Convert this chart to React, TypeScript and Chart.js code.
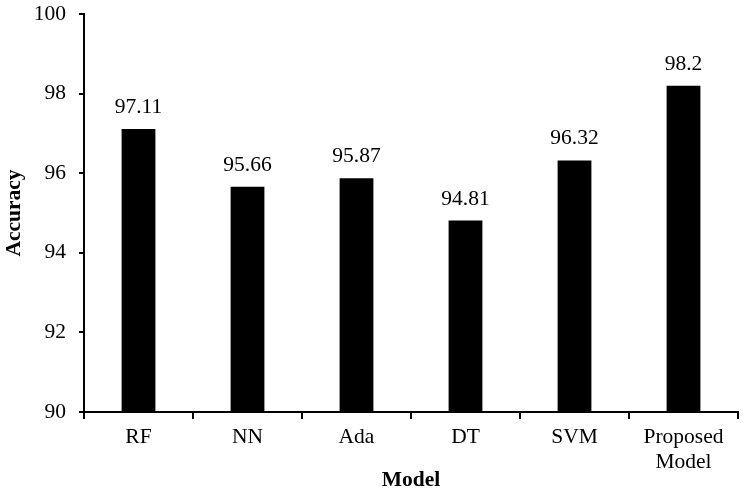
import React, { useEffect, useRef } from "react";
import { Chart, registerables } from "chart.js";
Chart.register(...registerables);

const categories: (string | string[])[] = ["RF", "NN", "Ada", "DT", "SVM", ["Proposed", "Model"]];
const accuracy = [97.11, 95.66, 95.87, 94.81, 96.32, 98.2];
const valueLabels = ["97.11", "95.66", "95.87", "94.81", "96.32", "98.2"];
const yTicks = [90, 92, 94, 96, 98, 100];

const FONT = "'Liberation Serif', 'Times New Roman', serif";
const FS = 21.5;

const labelPlugin = {
  id: "valueLabels",
  afterDatasetsDraw(chart: any) {
    const ctx = chart.ctx;
    const meta = chart.getDatasetMeta(0);
    ctx.save();
    ctx.font = `${FS}px ${FONT}`;
    ctx.fillStyle = "#000";
    ctx.textAlign = "center";
    ctx.textBaseline = "alphabetic";
    meta.data.forEach((el: any, i: number) => {
      ctx.fillText(valueLabels[i], el.x, el.y - 16);
    });
    ctx.restore();
  },
};

export default function App() {
  const ref = useRef<HTMLCanvasElement>(null);
  useEffect(() => {
    if (!ref.current) return;
    const chart = new Chart(ref.current, {
      type: "bar",
      data: {
        labels: categories,
        datasets: [
          {
            data: accuracy,
            backgroundColor: "#000",
            borderWidth: 0,
            barPercentage: 0.62,
            categoryPercentage: 0.5,
          },
        ],
      },
      options: {
        animation: false,
        responsive: false,
        maintainAspectRatio: false,
        layout: { padding: { top: 14, right: 8, left: 0, bottom: 0 } },
        plugins: { legend: { display: false }, tooltip: { enabled: false } },
        scales: {
          x: {
            offset: true,
            grid: {
              offset: true,
              drawOnChartArea: false,
              drawTicks: true,
              tickLength: 7,
              color: "#000",
              lineWidth: 2,
            },
            border: { color: "#000", width: 2 },
            ticks: {
              color: "#000",
              font: { family: FONT, size: FS, lineHeight: 1.2 },
              padding: 5,
              maxRotation: 0,
              autoSkip: false,
            },
            title: {
              display: true,
              text: "Model",
              color: "#000",
              font: { family: FONT, size: FS, weight: "bold" },
              padding: { top: 4, bottom: 0 },
            },
            afterFit(scale: any) {
              scale.height = 81;
              scale.paddingLeft = 0;
              scale.paddingRight = 0;
            },
          },
          y: {
            min: 90,
            max: 100,
            afterBuildTicks(scale: any) {
              scale.ticks = yTicks.map((v) => ({ value: v }));
            },
            grid: {
              drawOnChartArea: false,
              drawTicks: true,
              tickLength: 5,
              color: "#000",
              lineWidth: 2,
            },
            border: { color: "#000", width: 2 },
            ticks: {
              color: "#000",
              font: { family: FONT, size: FS },
              padding: 13,
            },
            title: {
              display: true,
              text: "Accuracy",
              color: "#000",
              font: { family: FONT, size: FS, weight: "bold" },
              padding: { top: 2, bottom: 4 },
            },
            afterFit(scale: any) {
              scale.width = 84;
              scale.paddingTop = 0;
              scale.paddingBottom = 0;
            },
          },
        },
      },
      plugins: [labelPlugin],
    });
    return () => chart.destroy();
  }, []);
  return (
    <div style={{ position: "fixed", left: 0, top: 0, width: 746, height: 493, background: "#fff" }}>
      <canvas ref={ref} width={746} height={493} style={{ width: 746, height: 493 }} />
    </div>
  );
}
